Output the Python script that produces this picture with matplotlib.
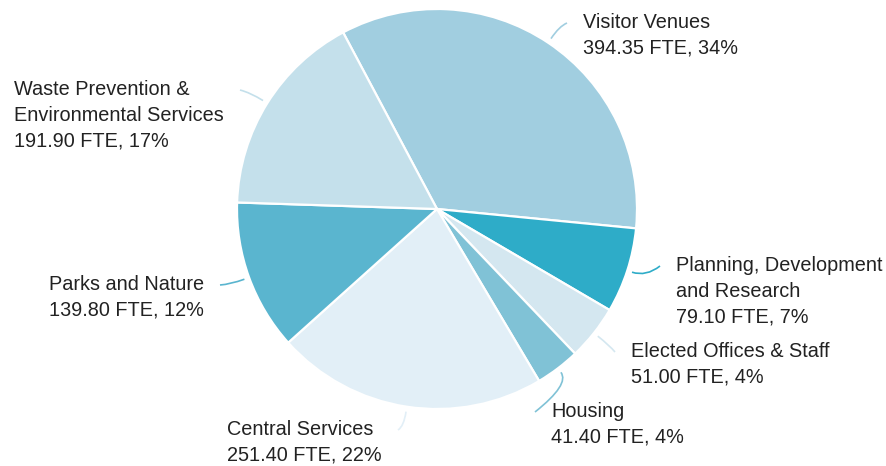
import numpy as np
import matplotlib
matplotlib.use("Agg")
import matplotlib.pyplot as plt
from matplotlib.path import Path
from matplotlib.patches import PathPatch

# FTE by department, clockwise from the top
names = ["Visitor Venues", "Planning, Development\nand Research",
         "Elected Offices & Staff", "Housing", "Central Services",
         "Parks and Nature", "Waste Prevention &\nEnvironmental Services"]
fte = [394.35, 79.10, 51.00, 41.40, 251.40, 139.80, 191.90]
pct = [34, 7, 4, 4, 22, 12, 17]
colors = ["#a1cee0", "#2eacc8", "#d4e7f0", "#80c2d6", "#e2eff7",
          "#5ab5cf", "#c4e0eb"]

# where each leader line ends (pixels, image y downwards) and which side the text goes
label_end = [(567, 23), (660, 266), (615, 352), (535, 412),
             (398, 430), (220, 285), (240, 90)]
label_side = ["right", "right", "right", "right", "left", "left", "left"]

W, H = 887, 466
cx, cy, R = 437, H - 209, 200

plt.rcParams["font.family"] = ["Liberation Sans", "DejaVu Sans"]
fig = plt.figure(figsize=(W / 100, H / 100), dpi=100)
ax = fig.add_axes([0, 0, 1, 1])

wedges, _ = ax.pie(fte, colors=colors, startangle=118, counterclock=False,
                   radius=R, center=(cx, cy),
                   wedgeprops=dict(edgecolor="white", linewidth=1.6))
ax.set_xlim(0, W)
ax.set_ylim(0, H)
ax.set_aspect("equal")
ax.axis("off")

for w, name, v, p, col, (ex, ey), side in zip(wedges, names, fte, pct, colors,
                                               label_end, label_side):
    mid = np.deg2rad((w.theta1 + w.theta2) / 2)
    ey = H - ey
    start = (cx + 1.025 * R * np.cos(mid), cy + 1.025 * R * np.sin(mid))
    ctrl = (cx + 1.1 * R * np.cos(mid), cy + 1.1 * R * np.sin(mid))
    path = Path([start, ctrl, (ex, ey)], [Path.MOVETO, Path.CURVE3, Path.CURVE3])
    ax.add_patch(PathPatch(path, fill=False, edgecolor=col, linewidth=1.2))

    txt = f"{name}\n{v:.2f} FTE, {p}%"
    if side == "right":
        ax.text(ex + 16, ey + 10, txt, ha="left", va="top", fontsize=14.3,
                color="#222222", linespacing=1.45)
    else:
        ax.text(ex - 16, ey + 10, txt, ha="right", va="top", fontsize=14.3,
                color="#222222", linespacing=1.45, multialignment="left")

fig.savefig("out.png", dpi=100)
